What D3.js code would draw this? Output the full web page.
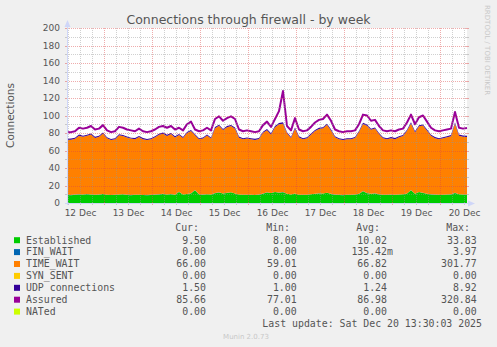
<!DOCTYPE html>
<html>
<head>
<meta charset="utf-8">
<script src="https://cdn.jsdelivr.net/npm/d3@7"></script>
<style>
  body { margin: 0; background: #f0f0f0; }
  svg { display: block; font-family: "DejaVu Sans", sans-serif; }
  .mono { font-family: "DejaVu Sans Mono", monospace; font-size: 9.87px; fill: #555; }
</style>
</head>
<body>
<div id="chart"></div>
<script>
// Samples every 2 hours (Dec 12 05:30 -> Dec 20 13:30).
var startTime = new Date(2025, 11, 12, 5, 30);
var endTime = new Date(2025, 11, 20, 13, 30);
var stepHours = 2;

var established = [
  9.2, 9.0, 9.4, 9.8, 9.6, 10.1, 9.7, 9.3, 9.5, 10.2,
  9.4, 9.1, 9.3, 9.6, 9.9, 9.2, 9.0, 9.4, 9.3, 9.1,
  9.0, 9.2, 9.5, 9.8, 10.4, 9.6, 10.1, 9.4, 12.5, 9.6,
  10.2, 11.0, 14.5, 9.8, 9.5, 10.0, 9.7, 11.2, 12.0, 10.8,
  11.5, 12.2, 10.9, 9.6, 9.4, 9.2, 9.3, 9.1, 9.5, 10.6,
  12.0, 11.3, 12.5, 11.8, 12.4, 10.5, 9.6, 10.8, 9.4, 9.2,
  9.4, 9.9, 10.5, 11.0, 10.8, 11.6, 10.4, 9.5, 9.2, 9.0,
  9.3, 9.2, 9.6, 10.4, 13.5, 11.2, 10.6, 10.9, 9.8, 9.4,
  9.2, 9.5, 9.3, 9.6, 9.9, 10.8, 14.5, 10.6, 12.5, 11.4,
  10.6, 9.8, 9.5, 9.3, 9.4, 9.6, 9.8, 11.5, 9.9, 9.6,
  9.5
];
var finWait = [
  0.1, 0.1, 0.2, 0.1, 0.1, 0.2, 0.1, 0.1, 0.1, 0.2,
  0.1, 0.1, 0.1, 0.2, 0.1, 0.1, 0.1, 0.1, 0.2, 0.1,
  0.1, 0.1, 0.1, 0.2, 0.2, 0.1, 0.2, 0.1, 0.3, 0.1,
  0.2, 0.2, 0.3, 0.1, 0.1, 0.1, 0.1, 0.2, 0.2, 0.1,
  0.2, 0.2, 0.1, 0.1, 0.1, 0.1, 0.1, 0.1, 0.1, 0.2,
  0.2, 0.1, 0.2, 0.2, 0.3, 0.1, 0.1, 0.2, 0.1, 0.1,
  0.1, 0.1, 0.2, 0.2, 0.1, 0.2, 0.1, 0.1, 0.1, 0.1,
  0.1, 0.1, 0.1, 0.2, 0.3, 0.2, 0.1, 0.2, 0.1, 0.1,
  0.1, 0.1, 0.1, 0.1, 0.1, 0.2, 0.3, 0.1, 0.2, 0.2,
  0.1, 0.1, 0.1, 0.1, 0.1, 0.1, 0.1, 0.2, 0.1, 0.1,
  0.0
];
var timeWait = [
  63.0, 63.3, 63.8, 67.0, 66.0, 66.5, 68.5, 65.0, 66.0, 69.0,
  64.5, 62.8, 63.5, 67.5, 66.5, 65.5, 64.5, 63.5, 66.0, 63.8,
  62.8, 63.5, 65.5, 68.0, 68.5, 67.0, 68.5, 65.5, 65.0, 64.5,
  69.5, 71.0, 62.5, 63.0, 64.0, 67.0, 64.0, 74.0, 76.0, 72.5,
  75.0, 75.5, 74.0, 65.0, 63.5, 64.5, 63.5, 62.8, 63.5, 69.5,
  71.0, 67.0, 74.0, 78.0, 78.0, 69.0, 64.5, 74.0, 65.5, 63.5,
  64.5, 68.0, 71.5, 73.5, 74.5, 77.5, 72.5, 65.5, 63.5, 62.8,
  63.5, 63.5, 64.5, 70.5, 76.5, 77.0, 73.0, 74.0, 69.0, 64.5,
  63.5, 64.5, 63.5, 65.5, 66.5, 71.5, 76.0, 70.0, 75.0, 77.0,
  72.0, 67.0, 64.5, 63.5, 64.5, 65.5, 66.5, 79.0, 67.0, 66.0,
  66.0
];
var synSent = [
  0, 0, 0, 0, 0, 0, 0, 0, 0, 0, 0, 0, 0, 0, 0, 0, 0, 0, 0, 0,
  0, 0, 0, 0, 0, 0, 0, 0, 0, 0, 0, 0, 0, 0, 0, 0, 0, 0, 0, 0,
  0, 0, 0, 0, 0, 0, 0, 0, 0, 0, 0, 0, 0, 0, 0, 0, 0, 0, 0, 0,
  0, 0, 0, 0, 0, 0, 0, 0, 0, 0, 0, 0, 0, 0, 0, 0, 0, 0, 0, 0,
  0, 0, 0, 0, 0, 0, 0, 0, 0, 0, 0, 0, 0, 0, 0, 0, 0, 0, 0, 0,
  0
];
var udp = [
  1.2, 1.3, 1.2, 1.4, 1.2, 1.3, 1.2, 1.2, 1.3, 1.2,
  1.1, 1.2, 1.2, 1.3, 1.2, 1.2, 1.1, 1.2, 1.2, 1.3,
  1.2, 1.2, 1.3, 1.2, 1.4, 1.2, 1.2, 1.3, 1.2, 1.2,
  1.3, 1.2, 1.2, 1.2, 1.3, 1.2, 1.2, 1.4, 1.3, 1.2,
  1.3, 1.2, 1.2, 1.2, 1.1, 1.2, 1.2, 1.3, 1.2, 1.2,
  1.3, 1.2, 1.2, 1.4, 1.5, 1.2, 1.2, 1.3, 1.2, 1.2,
  1.2, 1.3, 1.2, 1.2, 1.3, 1.2, 1.2, 1.2, 1.1, 1.2,
  1.2, 1.3, 1.2, 1.2, 1.3, 1.2, 1.2, 1.3, 1.2, 1.2,
  1.2, 1.2, 1.3, 1.2, 1.2, 1.3, 1.4, 1.2, 1.3, 1.2,
  1.2, 1.2, 1.3, 1.2, 1.2, 1.2, 1.3, 1.4, 1.3, 1.4,
  1.5
];
var assured = [
  81, 81, 82, 86, 85, 86, 88, 84, 85, 89,
  83, 81, 82, 87, 86, 84, 83, 82, 85, 82,
  81, 82, 84, 87, 88, 86, 88, 84, 86, 83,
  90, 93, 84, 82, 83, 86, 83, 96, 99, 94,
  97, 99, 96, 84, 82, 83, 82, 81, 82, 89,
  93, 87, 96, 105, 128, 88, 83, 97, 84, 82,
  83, 87, 92, 95, 96, 101, 94, 84, 82, 81,
  82, 82, 83, 90, 101, 100, 94, 95, 88, 83,
  82, 83, 82, 84, 85, 92, 101, 90, 98, 100,
  93, 86, 83, 82, 83, 84, 85, 104, 86, 85,
  85.66
];
var nated = [
  0, 0, 0, 0, 0, 0, 0, 0, 0, 0, 0, 0, 0, 0, 0, 0, 0, 0, 0, 0,
  0, 0, 0, 0, 0, 0, 0, 0, 0, 0, 0, 0, 0, 0, 0, 0, 0, 0, 0, 0,
  0, 0, 0, 0, 0, 0, 0, 0, 0, 0, 0, 0, 0, 0, 0, 0, 0, 0, 0, 0,
  0, 0, 0, 0, 0, 0, 0, 0, 0, 0, 0, 0, 0, 0, 0, 0, 0, 0, 0, 0,
  0, 0, 0, 0, 0, 0, 0, 0, 0, 0, 0, 0, 0, 0, 0, 0, 0, 0, 0, 0,
  0
];

// Legend table.
var seriesNames = ["Established", "FIN_WAIT", "TIME_WAIT", "SYN_SENT", "UDP connections", "Assured", "NATed"];
var seriesColors = ["#00cc00", "#0066b3", "#ff8000", "#ffcc00", "#330099", "#990099", "#ccff00"];
var curValues = ["9.50", "0.00", "66.00", "0.00", "1.50", "85.66", "0.00"];
var minValues = ["8.00", "0.00", "59.01", "0.00", "1.00", "77.01", "0.00"];
var avgValues = ["10.02", "135.42m", "66.82", "0.00", "1.24", "86.98", "0.00"];
var maxValues = ["33.83", "3.97", "301.77", "0.00", "8.92", "320.84", "0.00"];
var yTicks = [0, 20, 40, 60, 80, 100, 120, 140, 160, 180, 200];

var W = 497, H = 347;
var plot = { left: 67, right: 467, top: 28, bottom: 203 };

var svg = d3.select("#chart").append("svg")
  .attr("width", W)
  .attr("height", H);

svg.append("rect").attr("width", W).attr("height", H).attr("fill", "#f0f0f0");

var xScale = d3.scaleTime()
  .domain([startTime, endTime])
  .range([plot.left, plot.right]);

var yScale = d3.scaleLinear()
  .domain([0, 200])
  .range([plot.bottom, plot.top]);

// Build the table for the stack.
var rows = established.map(function(d, i) {
  return {
    time: d3.timeHour.offset(startTime, i * stepHours),
    established: d,
    fin_wait: finWait[i],
    time_wait: timeWait[i],
    syn_sent: synSent[i],
    udp: udp[i],
    assured: assured[i],
    nated: nated[i]
  };
});

var stackKeys = ["established", "fin_wait", "time_wait", "syn_sent", "udp"];
var stacked = d3.stack().keys(stackKeys)(rows);

// Canvas
svg.append("rect")
  .attr("x", plot.left).attr("y", plot.top)
  .attr("width", plot.right - plot.left)
  .attr("height", plot.bottom - plot.top)
  .attr("fill", "#ffffff");

var g = svg.append("g");

// NATed line goes first so the areas hide it like in rrdtool.
var line = d3.line()
  .x(function(d) { return xScale(d.time); });

g.append("path")
  .datum(rows)
  .attr("fill", "none")
  .attr("stroke", seriesColors[6])
  .attr("stroke-width", 2)
  .attr("d", line.y(function(d) { return yScale(d.nated); }));

var area = d3.area()
  .x(function(d) { return xScale(d.data.time); })
  .y0(function(d) { return yScale(d[0]); })
  .y1(function(d) { return yScale(d[1]); });

g.selectAll(".layer")
  .data(stacked)
  .enter().append("path")
  .attr("class", "layer")
  .attr("fill", function(d, i) { return seriesColors[i]; })
  .attr("d", area);

g.append("path")
  .datum(rows)
  .attr("fill", "none")
  .attr("stroke", seriesColors[5])
  .attr("stroke-width", 2)
  .attr("stroke-linejoin", "round")
  .attr("d", line.y(function(d) { return yScale(d.assured); }));

// Grid on top, dotted like rrdtool.
var grid = svg.append("g");
var majorColor = "rgba(220,70,70,0.45)";
var minorColor = "rgba(150,150,150,0.45)";

d3.range(10, 201, 10).forEach(function(v) {
  var yy = Math.round(yScale(v)) + 0.5;
  var major = v % 20 == 0;
  grid.append("line")
    .attr("x1", plot.left).attr("x2", plot.right)
    .attr("y1", yy).attr("y2", yy)
    .attr("stroke", major ? majorColor : minorColor)
    .attr("stroke-dasharray", "1,1");
  grid.append("line")
    .attr("x1", plot.left - 2).attr("x2", plot.left + 1)
    .attr("y1", yy).attr("y2", yy)
    .attr("stroke", major ? majorColor : minorColor);
  grid.append("line")
    .attr("x1", plot.right - 1).attr("x2", plot.right + 2)
    .attr("y1", yy).attr("y2", yy)
    .attr("stroke", major ? majorColor : minorColor);
});

xScale.ticks(d3.timeHour.every(6)).forEach(function(t) {
  var xx = Math.round(xScale(t)) + 0.5;
  var major = t.getHours() == 0;
  grid.append("line")
    .attr("x1", xx).attr("x2", xx)
    .attr("y1", plot.top).attr("y2", plot.bottom)
    .attr("stroke", major ? majorColor : minorColor)
    .attr("stroke-dasharray", "1,1");
  grid.append("line")
    .attr("x1", xx).attr("x2", xx)
    .attr("y1", plot.bottom - 1).attr("y2", plot.bottom + 2)
    .attr("stroke", major ? majorColor : minorColor);
});

// Axis lines with arrows.
var axisColor = "#cfd6f8";
svg.append("line")
  .attr("x1", plot.left + 0.5).attr("x2", plot.left + 0.5)
  .attr("y1", plot.bottom + 2).attr("y2", plot.top - 4)
  .attr("stroke", axisColor);
svg.append("path")
  .attr("d", "M" + (plot.left - 2.5) + "," + (plot.top - 1) + "L" + (plot.left + 0.5) + "," + (plot.top - 8) + "L" + (plot.left + 3.5) + "," + (plot.top - 1) + "Z")
  .attr("fill", axisColor);
svg.append("line")
  .attr("x1", plot.left - 2).attr("x2", plot.right + 4)
  .attr("y1", plot.bottom + 0.5).attr("y2", plot.bottom + 0.5)
  .attr("stroke", axisColor);
svg.append("path")
  .attr("d", "M" + (plot.right + 1) + "," + (plot.bottom - 2.5) + "L" + (plot.right + 8) + "," + (plot.bottom + 0.5) + "L" + (plot.right + 1) + "," + (plot.bottom + 3.5) + "Z")
  .attr("fill", axisColor);

// Tick labels through d3 axes.
var yAxis = svg.append("g")
  .attr("transform", "translate(" + plot.left + ",0)")
  .call(d3.axisLeft(yScale).tickValues(yTicks).tickSize(0).tickPadding(7));
yAxis.select(".domain").remove();
yAxis.selectAll("text")
  .style("font-family", "DejaVu Sans")
  .style("font-size", "9px")
  .attr("fill", "#555");

var noonTicks = d3.timeDay.range(new Date(2025, 11, 12), new Date(2025, 11, 21))
  .map(function(d) { return d3.timeHour.offset(d, 12); });
var xAxis = svg.append("g")
  .attr("transform", "translate(0," + plot.bottom + ")")
  .call(d3.axisBottom(xScale).tickValues(noonTicks).tickSize(0).tickPadding(6.5)
    .tickFormat(d3.timeFormat("%d %b")));
xAxis.select(".domain").remove();
xAxis.selectAll("text")
  .style("font-family", "DejaVu Sans")
  .style("font-size", "9px")
  .attr("fill", "#555");

// Title and axis title.
svg.append("text")
  .attr("x", 248.5).attr("y", 24)
  .attr("text-anchor", "middle")
  .style("font-size", "12.5px")
  .attr("fill", "#555")
  .text("Connections through firewall - by week");

svg.append("text")
  .attr("transform", "translate(14," + ((plot.top + plot.bottom) / 2) + ") rotate(-90)")
  .attr("text-anchor", "middle")
  .style("font-size", "10.5px")
  .attr("fill", "#555")
  .text("Connections");

svg.append("text")
  .attr("transform", "translate(485,5) rotate(90)")
  .style("font-size", "7px")
  .attr("fill", "#c8c8c8")
  .text("RRDTOOL / TOBI OETIKER");

// Legend.
var legend = svg.append("g");
var colEdges = [206, 296.7, 387, 476.7];
var headers = ["Cur:", "Min:", "Avg:", "Max:"];
var headerEdges = [199, 290, 380, 470];
headers.forEach(function(h, i) {
  legend.append("text").attr("class", "mono")
    .attr("x", headerEdges[i]).attr("y", 231)
    .attr("text-anchor", "end")
    .text(h);
});

var columns = [curValues, minValues, avgValues, maxValues];
seriesNames.forEach(function(name, i) {
  var base = 243.5 + i * 11.9;
  legend.append("rect")
    .attr("x", 14).attr("y", base - 6.3)
    .attr("width", 6).attr("height", 6)
    .attr("fill", seriesColors[i]);
  legend.append("text").attr("class", "mono")
    .attr("x", 26).attr("y", base)
    .text(name);
  columns.forEach(function(col, c) {
    var s = col[i];
    var unit = "";
    if (/[a-zA-Z]$/.test(s)) { unit = s.slice(-1); s = s.slice(0, -1); }
    legend.append("text").attr("class", "mono")
      .attr("x", colEdges[c]).attr("y", base)
      .attr("text-anchor", "end")
      .text(s);
    if (unit) {
      legend.append("text").attr("class", "mono")
        .attr("x", colEdges[c]).attr("y", base)
        .text(unit);
    }
  });
});

legend.append("text").attr("class", "mono")
  .attr("x", 482).attr("y", 243.5 + 7 * 11.9)
  .attr("text-anchor", "end")
  .text("Last update: Sat Dec 20 13:30:03 2025");

svg.append("text")
  .attr("x", 246).attr("y", 339)
  .attr("text-anchor", "middle")
  .style("font-size", "7px")
  .attr("fill", "#c8c8c8")
  .text("Munin 2.0.73");
</script>
</body>
</html>
